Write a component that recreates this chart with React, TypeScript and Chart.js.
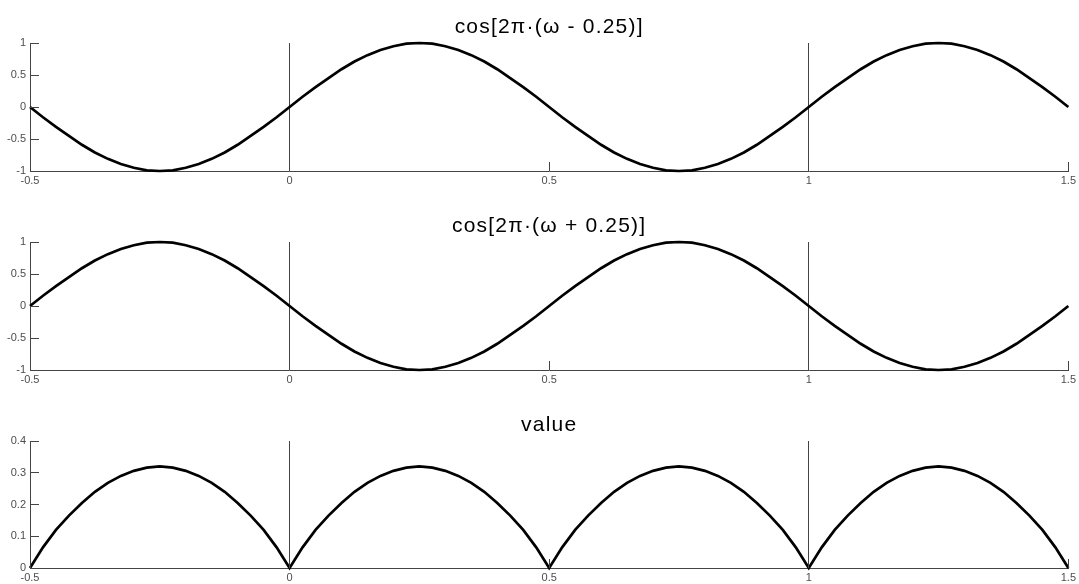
import { useEffect, useRef } from "react";
import { Chart, registerables } from "chart.js";

Chart.register(...registerables);

// Sample positions along ω
const omega = [
  -0.5, -0.475, -0.45, -0.425, -0.4, -0.375, -0.35, -0.325, -0.3, -0.275,
  -0.25, -0.225, -0.2, -0.175, -0.15, -0.125, -0.1, -0.075, -0.05, -0.025,
  0, 0.025, 0.05, 0.075, 0.1, 0.125, 0.15, 0.175, 0.2, 0.225,
  0.25, 0.275, 0.3, 0.325, 0.35, 0.375, 0.4, 0.425, 0.45, 0.475,
  0.5, 0.525, 0.55, 0.575, 0.6, 0.625, 0.65, 0.675, 0.7, 0.725,
  0.75, 0.775, 0.8, 0.825, 0.85, 0.875, 0.9, 0.925, 0.95, 0.975,
  1, 1.025, 1.05, 1.075, 1.1, 1.125, 1.15, 1.175, 1.2, 1.225,
  1.25, 1.275, 1.3, 1.325, 1.35, 1.375, 1.4, 1.425, 1.45, 1.475,
  1.5,
];

// cos[2π·(ω - 0.25)]
const cosMinus = [
  0, -0.16, -0.31, -0.45, -0.59, -0.71, -0.81, -0.89, -0.95, -0.99,
  -1, -0.99, -0.95, -0.89, -0.81, -0.71, -0.59, -0.45, -0.31, -0.16,
  0, 0.16, 0.31, 0.45, 0.59, 0.71, 0.81, 0.89, 0.95, 0.99,
  1, 0.99, 0.95, 0.89, 0.81, 0.71, 0.59, 0.45, 0.31, 0.16,
  0, -0.16, -0.31, -0.45, -0.59, -0.71, -0.81, -0.89, -0.95, -0.99,
  -1, -0.99, -0.95, -0.89, -0.81, -0.71, -0.59, -0.45, -0.31, -0.16,
  0, 0.16, 0.31, 0.45, 0.59, 0.71, 0.81, 0.89, 0.95, 0.99,
  1, 0.99, 0.95, 0.89, 0.81, 0.71, 0.59, 0.45, 0.31, 0.16,
  0,
];

// cos[2π·(ω + 0.25)]
const cosPlus = [
  0, 0.16, 0.31, 0.45, 0.59, 0.71, 0.81, 0.89, 0.95, 0.99,
  1, 0.99, 0.95, 0.89, 0.81, 0.71, 0.59, 0.45, 0.31, 0.16,
  0, -0.16, -0.31, -0.45, -0.59, -0.71, -0.81, -0.89, -0.95, -0.99,
  -1, -0.99, -0.95, -0.89, -0.81, -0.71, -0.59, -0.45, -0.31, -0.16,
  0, 0.16, 0.31, 0.45, 0.59, 0.71, 0.81, 0.89, 0.95, 0.99,
  1, 0.99, 0.95, 0.89, 0.81, 0.71, 0.59, 0.45, 0.31, 0.16,
  0, -0.16, -0.31, -0.45, -0.59, -0.71, -0.81, -0.89, -0.95, -0.99,
  -1, -0.99, -0.95, -0.89, -0.81, -0.71, -0.59, -0.45, -0.31, -0.16,
  0,
];

// value
const valueSeries = [
  0, 0.065, 0.12, 0.165, 0.205, 0.24, 0.268, 0.29, 0.306, 0.316,
  0.32, 0.316, 0.306, 0.29, 0.268, 0.24, 0.205, 0.165, 0.12, 0.065,
  0, 0.065, 0.12, 0.165, 0.205, 0.24, 0.268, 0.29, 0.306, 0.316,
  0.32, 0.316, 0.306, 0.29, 0.268, 0.24, 0.205, 0.165, 0.12, 0.065,
  0, 0.065, 0.12, 0.165, 0.205, 0.24, 0.268, 0.29, 0.306, 0.316,
  0.32, 0.316, 0.306, 0.29, 0.268, 0.24, 0.205, 0.165, 0.12, 0.065,
  0, 0.065, 0.12, 0.165, 0.205, 0.24, 0.268, 0.29, 0.306, 0.316,
  0.32, 0.316, 0.306, 0.29, 0.268, 0.24, 0.205, 0.165, 0.12, 0.065,
  0,
];

const xTicks = [-0.5, 0, 0.5, 1, 1.5];
const markerLines = [0, 1];
const cosTicks = [-1, -0.5, 0, 0.5, 1];
const valueTicks = [0, 0.1, 0.2, 0.3, 0.4];

const AXIS_COLOR = "#444444";
const LABEL_COLOR = "#4d4d4d";
const FONT = "'Liberation Sans', Arial, Helvetica, sans-serif";
const TICK_LEN = 9;
const WIDTH = 1079;
const TITLE_SPACE = 30;
const XAXIS_SPACE = 20;

// MATLAB-style ticks pointing into the plot area
const inwardTicks = {
  id: "inwardTicks",
  afterDraw(chart: any) {
    const { ctx, chartArea } = chart;
    const xs = chart.scales.x;
    const ys = chart.scales.y;
    ctx.save();
    ctx.strokeStyle = AXIS_COLOR;
    ctx.lineWidth = 1;
    ctx.beginPath();
    for (const t of ys.ticks) {
      const y = Math.round(ys.getPixelForValue(t.value) - 0.5) + 0.5;
      ctx.moveTo(chartArea.left, y);
      ctx.lineTo(chartArea.left + TICK_LEN, y);
    }
    for (const t of xs.ticks) {
      const x = Math.round(xs.getPixelForValue(t.value) - 0.5) + 0.5;
      ctx.moveTo(x, chartArea.bottom);
      ctx.lineTo(x, chartArea.bottom - TICK_LEN);
    }
    ctx.stroke();
    ctx.restore();
  },
};

// Title centred over the plot area rather than the whole canvas
const axesTitle = {
  id: "axesTitle",
  afterDraw(chart: any, _args: any, opts: any) {
    const { ctx, chartArea } = chart;
    ctx.save();
    ctx.fillStyle = "#000000";
    ctx.font = `normal ${opts.size}px ${FONT}`;
    if ("letterSpacing" in ctx) (ctx as any).letterSpacing = `${opts.spacing}px`;
    ctx.textAlign = "center";
    ctx.textBaseline = "middle";
    ctx.fillText(opts.text, (chartArea.left + chartArea.right) / 2, chartArea.top - opts.offset);
    ctx.restore();
  },
};

type PanelProps = {
  title: string;
  values: number[];
  yTicks: number[];
  yMin: number;
  yMax: number;
  areaTop: number;
  areaBottom: number;
};

function Panel({ title, values, yTicks, yMin, yMax, areaTop, areaBottom }: PanelProps) {
  const ref = useRef<HTMLCanvasElement | null>(null);
  const top = areaTop - TITLE_SPACE;
  const height = areaBottom - areaTop + TITLE_SPACE + XAXIS_SPACE;

  useEffect(() => {
    if (!ref.current) return;
    const chart = new Chart(ref.current, {
      type: "line",
      data: {
        datasets: [
          {
            data: omega.map((x, i) => ({ x, y: values[i] })),
            borderColor: "#000000",
            borderWidth: 2.7,
            pointRadius: 0,
            tension: 0,
            fill: false,
            clip: false,
          },
        ],
      },
      options: {
        animation: false,
        responsive: false,
        events: [],
        layout: { padding: { left: 0, right: 8, top: TITLE_SPACE, bottom: 0 } },
        plugins: {
          legend: { display: false },
          tooltip: { enabled: false },
          title: { display: false },
          axesTitle: { text: title, size: 21, spacing: 1.2, offset: 16 },
        } as any,
        scales: {
          x: {
            type: "linear",
            min: -0.5,
            max: 1.5,
            afterBuildTicks: (scale: any) => {
              scale.ticks = xTicks.map((v) => ({ value: v }));
            },
            afterFit: (scale: any) => {
              scale.height = XAXIS_SPACE;
            },
            ticks: {
              color: LABEL_COLOR,
              font: { family: FONT, size: 11 },
              padding: 3,
              maxRotation: 0,
              autoSkip: false,
              callback: (v: any) => String(v),
            },
            grid: {
              drawTicks: false,
              drawOnChartArea: true,
              lineWidth: 1,
              color: (ctx: any) =>
                ctx.tick && markerLines.includes(ctx.tick.value) ? AXIS_COLOR : "rgba(0,0,0,0)",
            },
            border: { display: true, color: AXIS_COLOR, width: 1 },
          },
          y: {
            type: "linear",
            min: yMin,
            max: yMax,
            afterBuildTicks: (scale: any) => {
              scale.ticks = yTicks.map((v) => ({ value: v }));
            },
            afterFit: (scale: any) => {
              scale.width = 30;
            },
            ticks: {
              color: LABEL_COLOR,
              font: { family: FONT, size: 11 },
              padding: 4,
              autoSkip: false,
              callback: (v: any) => String(v),
            },
            grid: { drawTicks: false, color: "rgba(0,0,0,0)" },
            border: { display: true, color: AXIS_COLOR, width: 1 },
          },
        },
      },
      plugins: [inwardTicks, axesTitle],
    });
    return () => chart.destroy();
  }, [title, values, yTicks, yMin, yMax]);

  return (
    <canvas
      ref={ref}
      width={WIDTH}
      height={height}
      style={{ position: "absolute", left: 0, top, width: WIDTH, height }}
    />
  );
}

export default function App() {
  return (
    <div
      style={{
        position: "absolute",
        left: 0,
        top: 0,
        width: WIDTH,
        height: 584,
        background: "#ffffff",
        overflow: "hidden",
      }}
    >
      <Panel
        title="cos[2π·(ω - 0.25)]"
        values={cosMinus}
        yTicks={cosTicks}
        yMin={-1}
        yMax={1}
        areaTop={43}
        areaBottom={171}
      />
      <Panel
        title="cos[2π·(ω + 0.25)]"
        values={cosPlus}
        yTicks={cosTicks}
        yMin={-1}
        yMax={1}
        areaTop={242}
        areaBottom={370}
      />
      <Panel
        title="value"
        values={valueSeries}
        yTicks={valueTicks}
        yMin={0}
        yMax={0.4}
        areaTop={441}
        areaBottom={568}
      />
    </div>
  );
}
